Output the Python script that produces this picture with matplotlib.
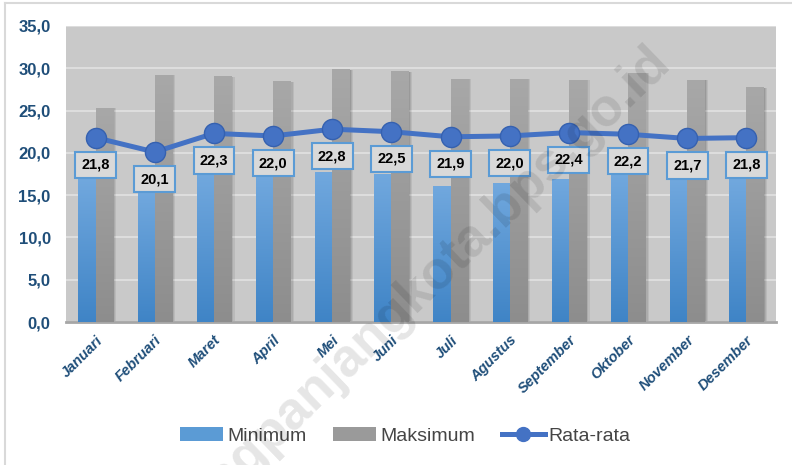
import matplotlib
matplotlib.use("Agg")
import matplotlib.pyplot as plt
import matplotlib.transforms as mtransforms
import numpy as np
from matplotlib.colors import LinearSegmentedColormap
from matplotlib.lines import Line2D
from matplotlib.patches import Patch, Rectangle

bulan = ["Januari", "Februari", "Maret", "April", "Mei", "Juni", "Juli",
         "Agustus", "September", "Oktober", "November", "Desember"]
minimum = [17.0, 15.3, 17.5, 17.3, 17.7, 17.5, 16.0, 16.4, 16.9, 17.4, 16.8, 16.8]
maksimum = [25.3, 29.2, 29.0, 28.4, 29.8, 29.6, 28.7, 28.7, 28.6, 29.4, 28.6, 27.7]
rata = [21.8, 20.1, 22.3, 22.0, 22.8, 22.5, 21.9, 22.0, 22.4, 22.2, 21.7, 21.8]
yticks = [0, 5, 10, 15, 20, 25, 30, 35]

plt.rcParams['font.family'] = ['Liberation Sans', 'DejaVu Sans']

fig = plt.figure(figsize=(7.92, 4.65), dpi=100)
ax = fig.add_axes([66 / 792, 1 - 322 / 465, 710 / 792, 296 / 465])
ax.set_facecolor('#c9c9c9')

blue_cm = LinearSegmentedColormap.from_list('b', ['#3f84c6', '#71a8de'])
gray_cm = LinearSegmentedColormap.from_list('g', ['#8d8d8d', '#a8a8a8'])
grad = np.linspace(0, 1, 256).reshape(-1, 1)
w = 0.29
x = np.arange(len(bulan))


def grad_bar(x0, h, cmap):
    ax.imshow(grad, extent=[x0, x0 + w, 0, h], origin='lower', cmap=cmap,
              aspect='auto', zorder=3)


for i in x:
    # soft shadow on the right of the grey bar
    for k, a in [(0.06, 0.07), (0.04, 0.08), (0.02, 0.1)]:
        ax.add_patch(Rectangle((i + w, 0), k, maksimum[i], color='black',
                               alpha=a, lw=0, zorder=2))
    grad_bar(i - w, minimum[i], blue_cm)
    grad_bar(i, maksimum[i], gray_cm)

ax.plot(x, rata, color='#4472c4', lw=3.6, marker='o', markersize=14.5,
        markerfacecolor='#4472c4', markeredgecolor='#3561b0', mew=1, zorder=5)

for i, v in enumerate(rata):
    ax.annotate(f"{v:.1f}".replace('.', ','), (i, v), xytext=(0, -19.5),
                textcoords='offset points', ha='center', va='center',
                fontsize=10.5, fontweight='bold', color='black', zorder=6,
                bbox=dict(boxstyle='square,pad=0.42', fc='#d9d9d9',
                          ec='#5b9bd5', lw=1.5))

ax.set_xlim(-0.5, len(bulan) - 0.5)
ax.set_ylim(0, 35)
ax.set_yticks(yticks)
ax.set_yticklabels([f"{t:.1f}".replace('.', ',') for t in yticks],
                   fontsize=12, fontweight='bold', color='#1f4e79')
ax.set_xticks(x)
ax.set_xticklabels(bulan, rotation=45, ha='right', va='top',
                   rotation_mode='anchor', fontsize=10.5, fontweight='bold',
                   fontstyle='italic', color='#1f4e79')
shift = mtransforms.ScaledTranslation(4 / 100, 0, fig.dpi_scale_trans)
for lab in ax.get_xticklabels():
    lab.set_transform(lab.get_transform() + shift)
ax.tick_params(axis='y', length=0, pad=11)
ax.tick_params(axis='x', length=0, pad=8)
ax.yaxis.grid(True, color='#e2e2e2', lw=1.2)
ax.set_axisbelow(True)
for s in ['top', 'right', 'left']:
    ax.spines[s].set_visible(False)
ax.spines['bottom'].set_color('#a6a6a6')
ax.spines['bottom'].set_linewidth(2)

handles = [Patch(fc='#5b9bd5', ec='none', label='Minimum'),
           Patch(fc='#9a9a9a', ec='none', label='Maksimum'),
           Line2D([], [], color='#4472c4', lw=3.6, marker='o', markersize=10,
                  markerfacecolor='#4472c4', label='Rata-rata')]
fig.legend(handles=handles, loc='center', bbox_to_anchor=(0.512, 1 - 436 / 465),
           ncol=3, frameon=False, fontsize=14, handlelength=2.2,
           handleheight=0.7, columnspacing=1.4, handletextpad=0.2,
           labelcolor='#454545')

# watermark (runs off the bottom edge, as in the source picture)
fig.text(662 / 792, 1 - 54 / 465, "padangpanjangkota.bps.go.id", rotation=44,
         rotation_mode='anchor', ha='right', va='center', fontsize=38,
         fontweight='bold', color='black', alpha=0.1, zorder=10)

# frame of the original picture
fig.add_artist(Line2D([5 / 792, 1], [1 - 3 / 465, 1 - 3 / 465],
                      color='#d9d9d9', lw=1.5))
fig.add_artist(Line2D([5 / 792, 5 / 792], [0, 1 - 3 / 465],
                      color='#d9d9d9', lw=1.5))

fig.savefig('out.png', dpi=100)
